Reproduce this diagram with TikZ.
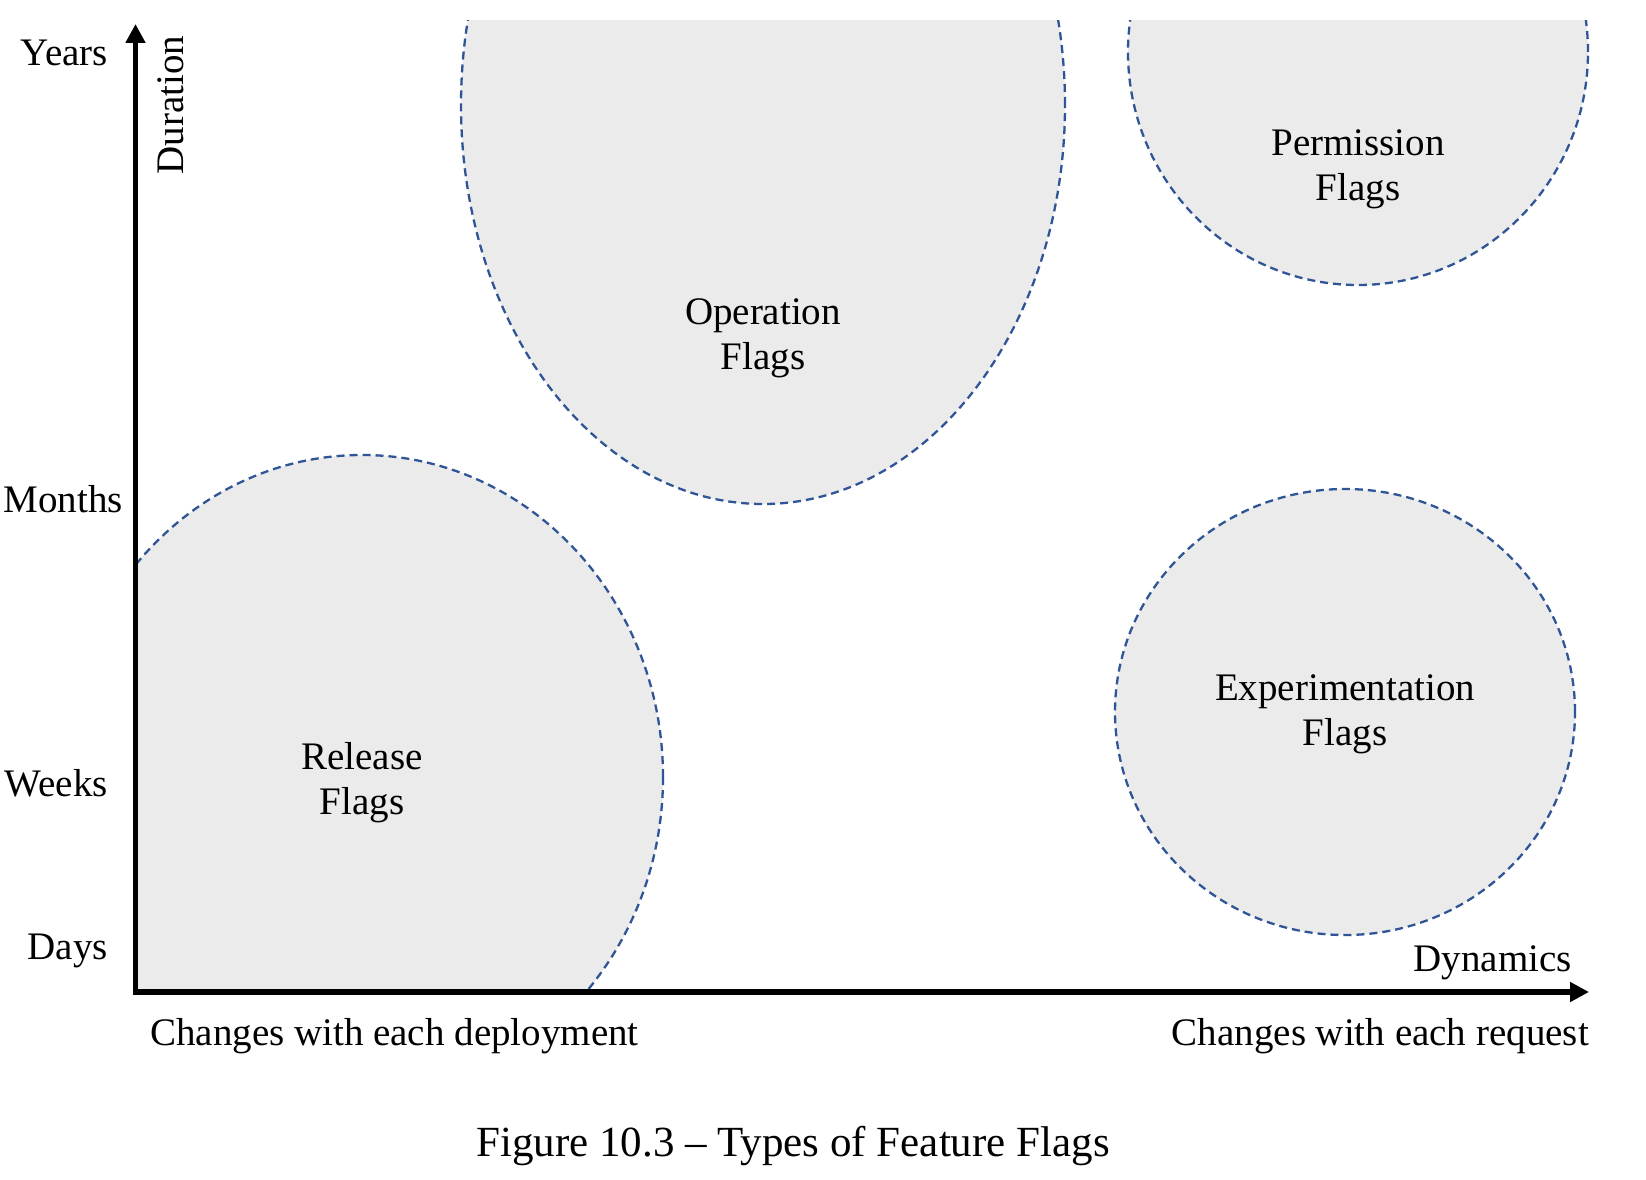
\documentclass[tikz,border=0pt]{standalone}
\usepackage{fontspec}
\setmainfont{Liberation Serif}
\usetikzlibrary{arrows.meta,shapes.geometric}
\definecolor{flagfill}{RGB}{235,235,235}
\definecolor{flagline}{RGB}{47,85,151}
\begin{document}
\begin{tikzpicture}[x=1pt,y=-1pt,
  lbl/.style={font=\fontsize{39}{45}\selectfont, inner sep=0pt},
  flaglbl/.style={font=\fontsize{39}{45}\selectfont, inner sep=0pt, align=center},
  region/.style={shape=ellipse, draw=flagline, fill=flagfill, line width=2.3pt,
    dash pattern=on 8pt off 5pt, inner sep=0pt},
  axis/.style={line width=5.5pt, {Triangle[length=19pt,width=19pt]}-{Triangle[length=19pt,width=19pt]}}
]
\useasboundingbox[fill=white] (0,0) rectangle (1646,1180);

% flag regions, cut off by the plot area
\begin{scope}
  \clip (135.5,21) rectangle (1646,992);
  \node[region, minimum width=602pt, minimum height=644pt] (rel) at (362,777) {};
  \node[region, minimum width=604pt, minimum height=798pt] (op) at (763,105) {};
  \node[region, minimum width=460pt, minimum height=466pt] (perm) at (1358,52) {};
  \node[region, minimum width=460pt, minimum height=446pt] (exp) at (1345,712) {};
\end{scope}

\node[flaglbl] (reltxt) at (362,783) {Release\\Flags};
\node[flaglbl] (optxt) at (763,338) {Operation\\Flags};
\node[flaglbl] (permtxt) at (1358,169) {Permission\\Flags};
\node[flaglbl] (exptxt) at (1345,714) {Experimentation\\Flags};

% axes
\coordinate (ytip) at (135.5,24);
\coordinate (origin) at (135.5,992);
\coordinate (xtip) at (1589,992);
\draw[axis] (ytip) -- (origin) -- (xtip);

% axis labels
\node[lbl, anchor=base east] (years) at (108,66) {Years};
\node[lbl, anchor=base east] (months) at (123,512) {Months};
\node[lbl, anchor=base east] (weeks) at (108,796) {Weeks};
\node[lbl, anchor=base east] (days) at (108,959) {Days};
\node[lbl, rotate=90] (duration) at (171,105) {Duration};
\node[lbl, anchor=base east] (dyn) at (1572,971) {Dynamics};
\node[lbl, anchor=base west] (deploy) at (150,1045) {Changes with each deployment};
\node[lbl, anchor=base east] (request) at (1589,1045) {Changes with each request};

\node[inner sep=0pt, font=\fontsize{43}{50}\selectfont, anchor=base] (caption) at (793,1156) {Figure 10.3 – Types of Feature Flags};
\end{tikzpicture}
\end{document}
